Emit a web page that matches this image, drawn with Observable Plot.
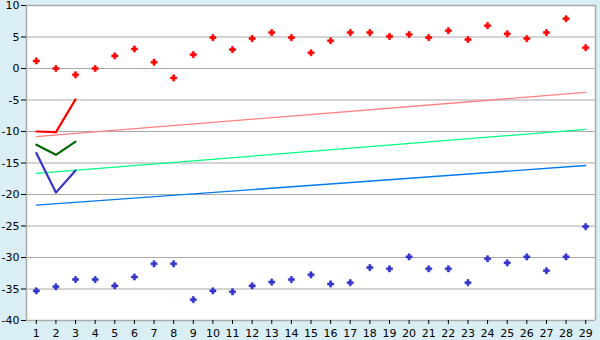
<!DOCTYPE html>
<html>
<head>
<meta charset="utf-8">
<script src="https://cdn.jsdelivr.net/npm/d3@7"></script>
<script src="https://cdn.jsdelivr.net/npm/@observablehq/plot@0.6"></script>
<style>
  html, body { margin: 0; padding: 0; background: #daeef5; }
  #chart svg { display: block; }
</style>
</head>
<body>
<div id="chart"></div>
<script>
const xs = d3.range(1, 30);
const redPoints = [1.2, 0, -1, 0, 2, 3.1, 1, -1.5, 2.2, 4.9, 3.0, 4.75, 5.7, 4.9, 2.5, 4.4, 5.7, 5.7, 5.1, 5.4, 4.9, 6.0, 4.6, 6.8, 5.5, 4.75, 5.7, 7.9, 3.3];
const bluePoints = [-35.3, -34.65, -33.5, -33.5, -34.5, -33.1, -31.0, -31.0, -36.7, -35.3, -35.45, -34.5, -33.9, -33.5, -32.75, -34.2, -34.0, -31.6, -31.8, -29.9, -31.8, -31.8, -34.0, -30.2, -30.85, -29.9, -32.1, -29.9, -25.1];

const shortX = [1, 2, 3];
const shortRed = [-10, -10.1, -4.9];
const shortGreen = [-12.1, -13.7, -11.6];
const shortBlue = [-13.4, -19.7, -16.2];

const trendX = [1, 29];
const trendPink = [-10.8, -3.8];
const trendGreen = [-16.65, -9.66];
const trendBlue = [-21.7, -15.4];

const yTicks = [10, 5, 0, -5, -10, -15, -20, -25, -30, -35, -40];

const pts = (xv, yv) => xv.map((x, i) => ({x, y: yv[i]}));

const font = "DejaVu Sans, Verdana, sans-serif";

const chart = Plot.plot({
  width: 600,
  height: 340,
  marginLeft: 26,
  marginRight: 5,
  marginTop: 5,
  marginBottom: 20,
  style: {background: "#daeef5", fontFamily: font, fontSize: "11px", color: "#000"},
  x: {domain: [0.5, 29.5], axis: null},
  y: {domain: [-40, 10], axis: null},
  marks: [
    Plot.frame({fill: "white", stroke: "none"}),
    Plot.gridY(yTicks, {stroke: "#aaaaaa", strokeOpacity: 1, strokeWidth: 1.2}),
    Plot.ruleX([0.5], {stroke: "#aaaaaa", strokeWidth: 1.5}),
    Plot.ruleX([29.5], {stroke: "#aaaaaa", strokeWidth: 1.5}),
    Plot.ruleY([-40], {stroke: "#aaaaaa", strokeWidth: 1.5}),
    Plot.ruleY([10], {stroke: "#aaaaaa", strokeWidth: 1.5}),
    Plot.axisY(yTicks, {tickSize: 5, tickPadding: 2, stroke: "#000", fontSize: 11, tickFormat: d => String(d), label: null}),
    Plot.axisX(xs, {tickSize: 4, tickPadding: 5, stroke: "#000", fontSize: 11, tickFormat: d => String(d), label: null}),
    Plot.line(pts(trendX, trendPink), {x: "x", y: "y", stroke: "#ff8080", strokeWidth: 1.3}),
    Plot.line(pts(trendX, trendGreen), {x: "x", y: "y", stroke: "#00ff80", strokeWidth: 1.3}),
    Plot.line(pts(trendX, trendBlue), {x: "x", y: "y", stroke: "#0078f0", strokeWidth: 1.3}),
    Plot.line(pts(shortX, shortRed), {x: "x", y: "y", stroke: "#ff0000", strokeWidth: 2.2}),
    Plot.line(pts(shortX, shortGreen), {x: "x", y: "y", stroke: "#006600", strokeWidth: 2.2}),
    Plot.line(pts(shortX, shortBlue), {x: "x", y: "y", stroke: "#3333cc", strokeWidth: 2.2}),
    Plot.dot(pts(xs, redPoints), {x: "x", y: "y", symbol: "cross", r: 2.6, fill: "#ff0000", stroke: "#ff0000", strokeWidth: 0.6}),
    Plot.dot(pts(xs, bluePoints), {x: "x", y: "y", symbol: "cross", r: 2.6, fill: "#3333cc", stroke: "#3333cc", strokeWidth: 0.6})
  ]
});
document.getElementById("chart").appendChild(chart);
</script>
</body>
</html>
